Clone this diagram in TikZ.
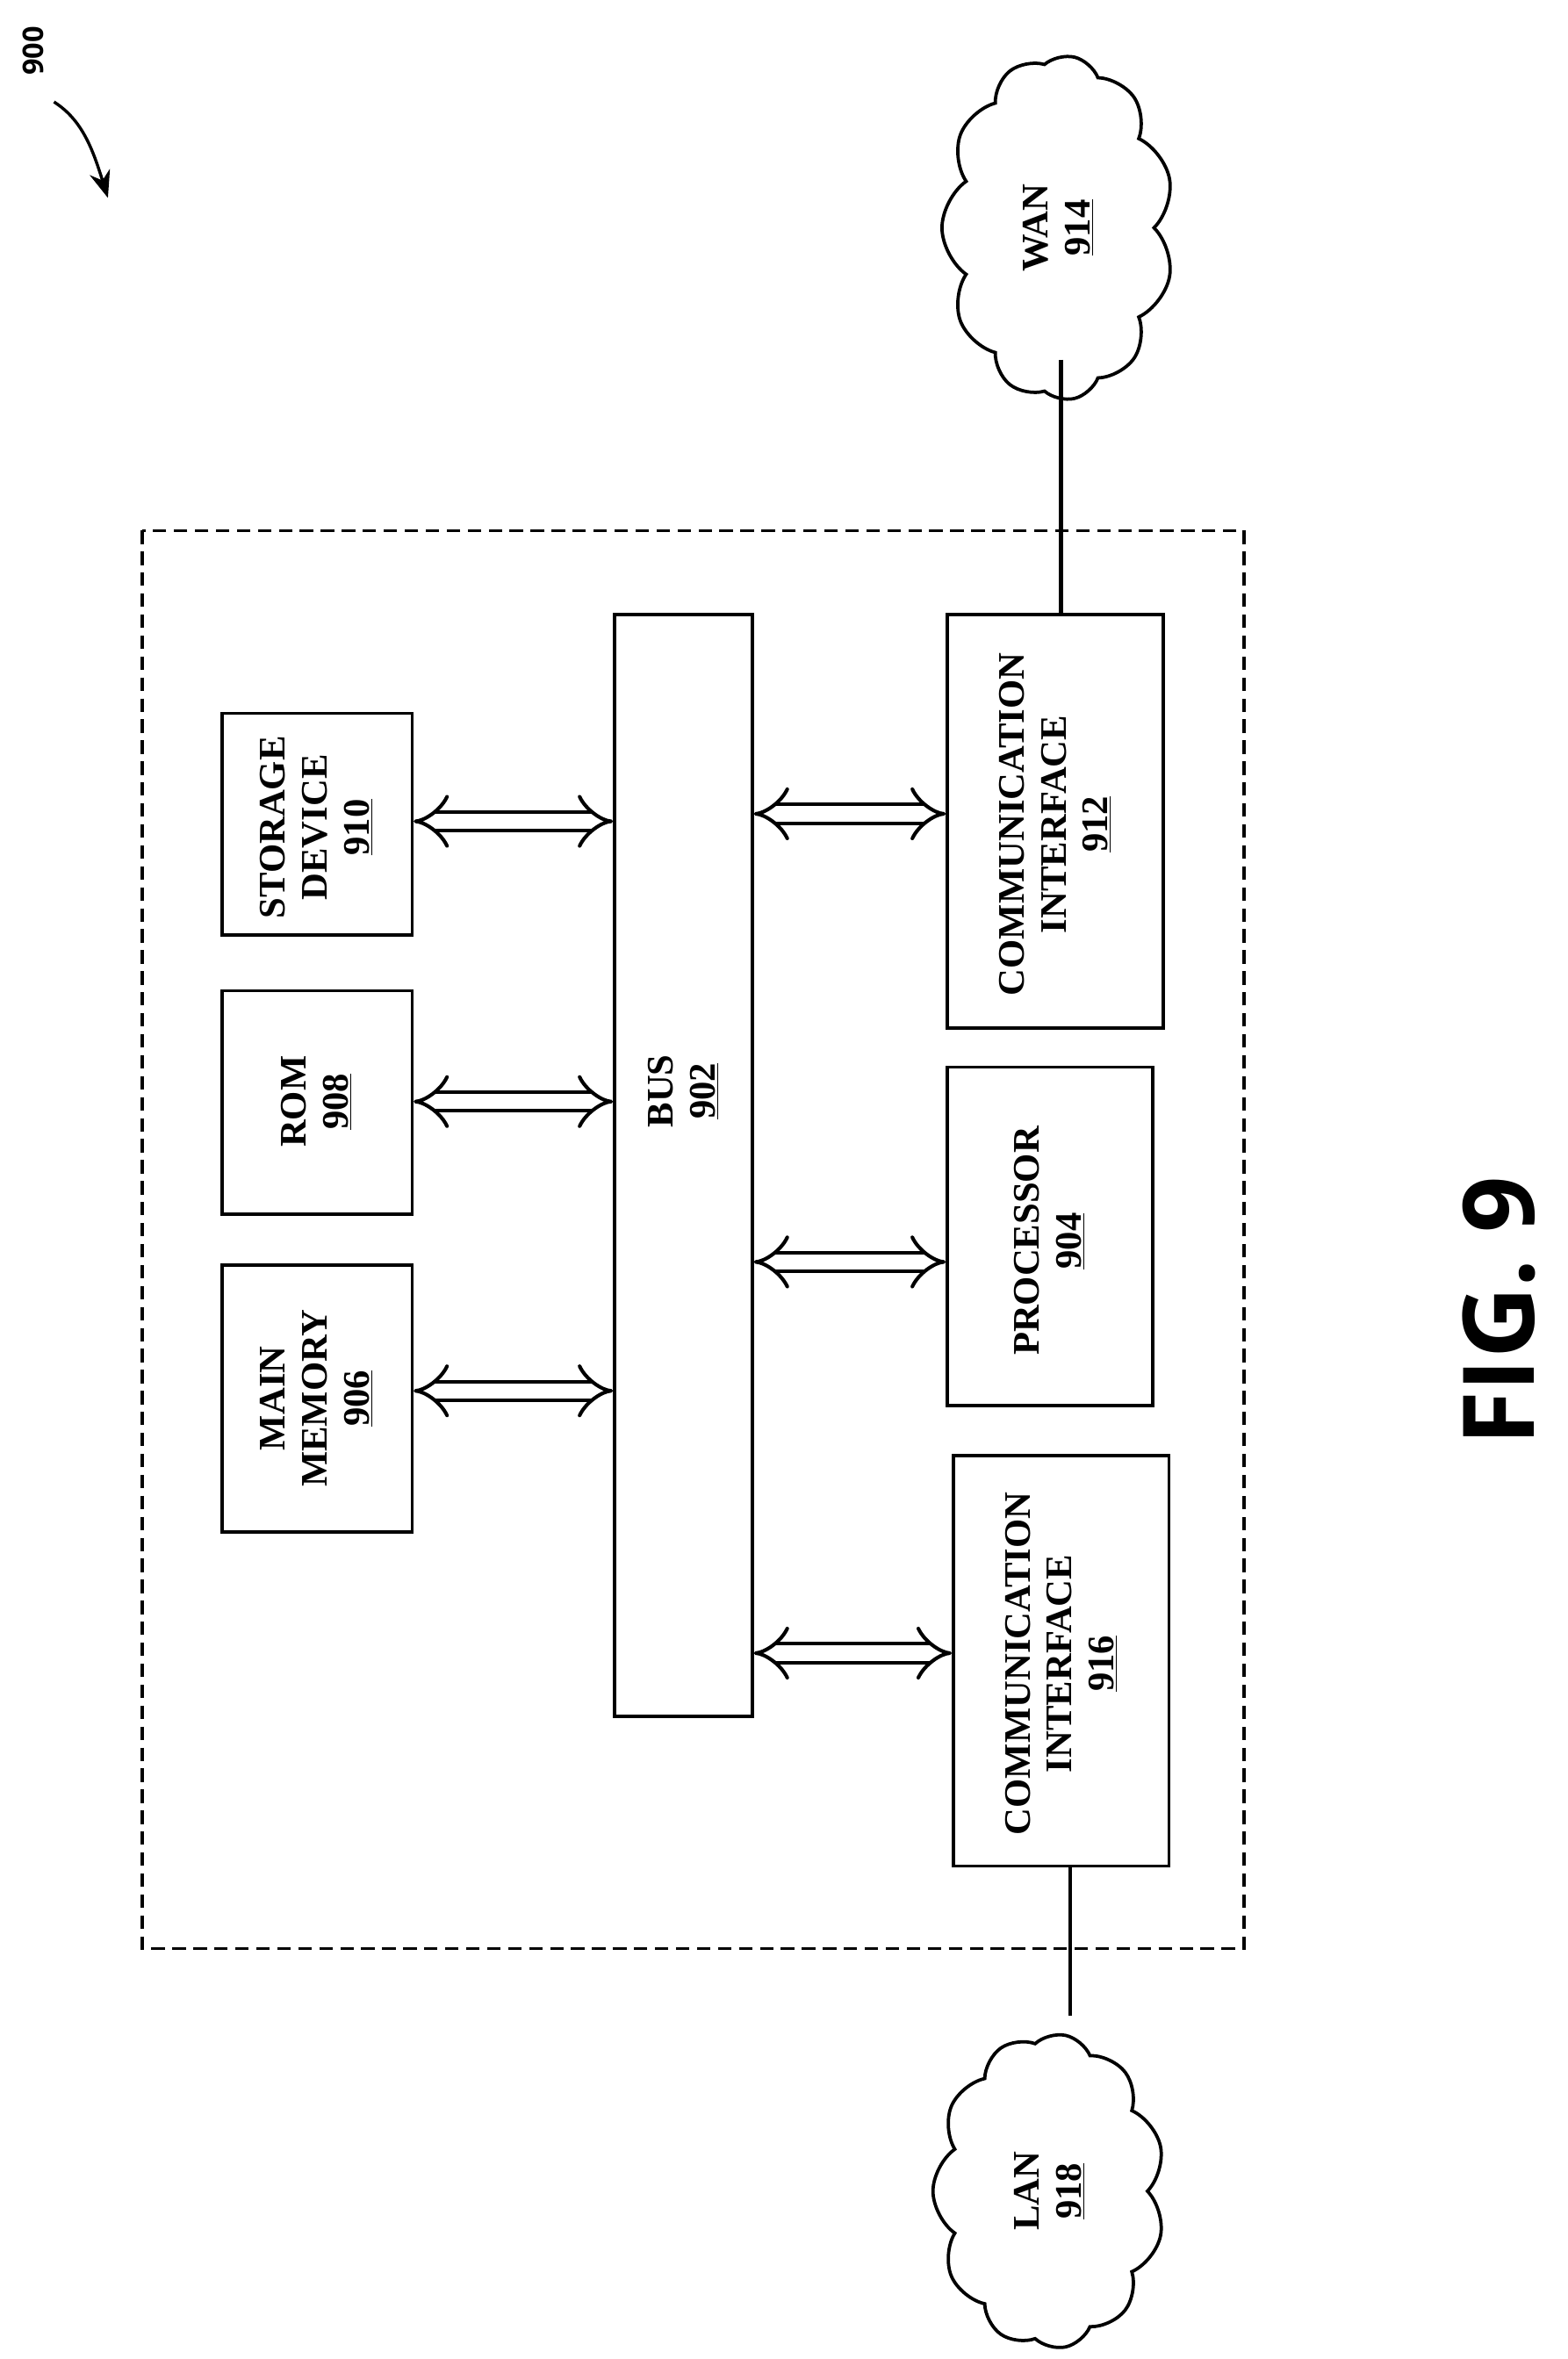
\documentclass[tikz,border=0pt]{standalone}
\usepackage{fontspec}
\setmainfont{Liberation Serif}
\newfontfamily\figfont{Open Sans}
\usetikzlibrary{arrows.meta,shapes.symbols}
\begin{document}
\begin{tikzpicture}[x=1pt,y=-1pt,
  box/.style={draw,line width=2.2pt},
  lbl/.style={rotate=90,align=center,font=\fontsize{25}{28}\selectfont\bfseries},
  dbl/.style={double,double distance=10pt,line width=2.4pt,{Implies[length=16pt]}-{Implies[length=16pt]},shorten <=1pt,shorten >=1pt},
  cl/.style={cloud,draw,line width=2.2pt,cloud puffs=11,cloud puff arc=110,aspect=0.65}]
\useasboundingbox (0,0) rectangle (1046,1574);
\draw[line width=2pt,dash pattern=on 9pt off 5pt] (95,354) rectangle (830,1300);
\draw[box] (410,410) rectangle (502,1145);
\node[lbl] (bus) at (456,728) {BUS\\\underline{902}};
\draw[box] (148,476) rectangle (275,624);
\node[lbl] (sd) at (211,552) {STORAGE\\DEVICE\\\underline{910}};
\draw[box] (148,661) rectangle (275,810);
\node[lbl] (rom) at (211,735) {ROM\\\underline{908}};
\draw[box] (148,844) rectangle (275,1022);
\node[lbl] (mm) at (211,933) {MAIN\\MEMORY\\\underline{906}};
\draw[box] (632,410) rectangle (776,686);
\node[lbl] (ci1) at (704,550) {COMMUNICATION\\INTERFACE\\\underline{912}};
\draw[box] (632,712) rectangle (769,938);
\node[lbl] (pr) at (700,828) {PROCESSOR\\\underline{904}};
\draw[box] (636,971) rectangle (780,1245);
\node[lbl] (ci2) at (708,1110) {COMMUNICATION\\INTERFACE\\\underline{916}};
\node[cl,minimum width=230pt,minimum height=155pt,rotate=90] (wan) at (706,152) {};
\node[lbl] at (706,152) {WAN\\\underline{914}};
\node[cl,minimum width=210pt,minimum height=155pt,rotate=90] (lan) at (700,1462) {};
\node[lbl] at (700,1462) {LAN\\\underline{918}};
\coordinate (w1) at (708,240); \coordinate (w2) at (708,410);
\draw[line width=2.6pt] (w1) -- (w2);
\coordinate (l1) at (714,1245); \coordinate (l2) at (714,1345);
\draw[line width=2.6pt] (l1) -- (l2);
\coordinate (a1) at (275,548); \coordinate (b1) at (410,548);
\coordinate (a2) at (275,735); \coordinate (b2) at (410,735);
\coordinate (a3) at (275,928); \coordinate (b3) at (410,928);
\coordinate (a4) at (502,543); \coordinate (b4) at (632,543);
\coordinate (a5) at (502,842); \coordinate (b5) at (632,842);
\coordinate (a6) at (502,1103); \coordinate (b6) at (636,1103);
\foreach \i in {1,...,6} \draw[dbl] (a\i) -- (b\i);
\node[rotate=90,font=\figfont\bfseries\fontsize{19}{21}\selectfont] (n900) at (22,34) {900};
\coordinate (t900) at (72,132);
\draw[line width=2pt,-{Stealth[length=18pt,width=14pt]}] (36,68) .. controls (55,80) and (62,100) .. (t900);
\node[rotate=90,font=\figfont\bfseries\fontsize{66}{72}\selectfont] (fig) at (1000,875) {FIG. 9};
\end{tikzpicture}
\end{document}
